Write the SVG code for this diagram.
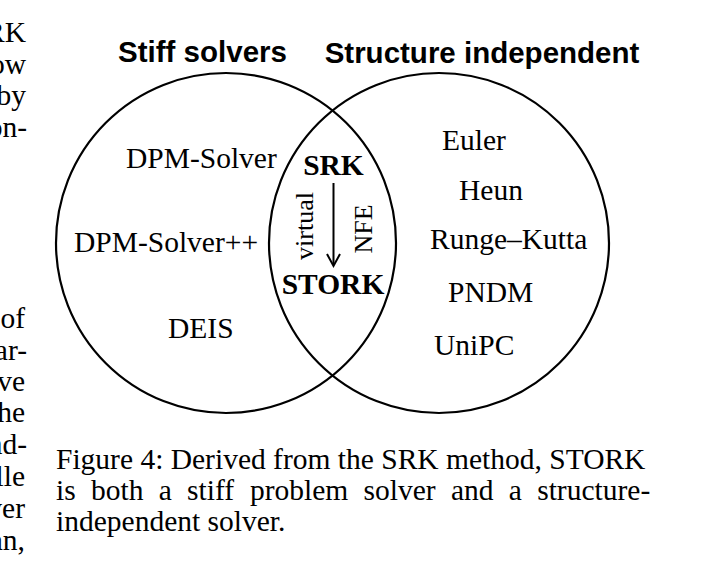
<svg xmlns="http://www.w3.org/2000/svg" width="708" height="571" viewBox="0 0 708 571">
<style>
.s{font-family:"Liberation Serif","Times New Roman",serif;font-size:29.5px;fill:#000}
.b{font-weight:bold}
.h{font-family:"Liberation Sans",Arial,sans-serif;font-size:29.5px;font-weight:bold;fill:#000}
.c{fill:none;stroke:#000;stroke-width:2.2}
.r{font-size:26px}
</style>
<rect width="708" height="571" fill="#fff"/>
<g id="margin-text" class="s">
<text x="26" y="42" text-anchor="end">RK</text>
<text x="26" y="74" text-anchor="end">ow</text>
<text x="26" y="105" text-anchor="end">by</text>
<text x="27" y="137" text-anchor="end">on-</text>
<text x="25" y="328" text-anchor="end">of</text>
<text x="27" y="360" text-anchor="end">ar-</text>
<text x="25" y="391" text-anchor="end">ve</text>
<text x="25" y="422" text-anchor="end">he</text>
<text x="27" y="454" text-anchor="end">nd-</text>
<text x="25" y="486" text-anchor="end">lle</text>
<text x="25" y="518" text-anchor="end">ver</text>
<text x="25" y="550" text-anchor="end">an,</text>
</g>
<g id="stiff-solvers">
<circle class="c" cx="226" cy="243" r="170"/>
<text class="h" x="202.5" y="62" text-anchor="middle">Stiff solvers</text>
<text class="s" x="126" y="168">DPM-Solver</text>
<text class="s" x="74" y="252">DPM-Solver++</text>
<text class="s" x="168" y="338">DEIS</text>
</g>
<g id="structure-independent">
<circle class="c" cx="439" cy="243" r="170"/>
<text class="h" x="482" y="63" text-anchor="middle">Structure independent</text>
<text class="s" x="442" y="150">Euler</text>
<text class="s" x="459" y="200">Heun</text>
<text class="s" x="430" y="249">Runge–Kutta</text>
<text class="s" x="448" y="302">PNDM</text>
<text class="s" x="434" y="355">UniPC</text>
</g>
<g id="srk"><text class="s b" x="333.5" y="175" text-anchor="middle">SRK</text></g>
<g id="stork"><text class="s b" x="333" y="294" text-anchor="middle">STORK</text></g>
<g id="connectors">
<line x1="333.5" y1="183" x2="333.5" y2="265" stroke="#000" stroke-width="2"/>
<polyline points="327,254 333.5,266 340,254" fill="none" stroke="#000" stroke-width="2"/>
<text class="s r" transform="translate(313,226) rotate(-90)" text-anchor="middle">virtual</text>
<text class="s r" transform="translate(372,229) rotate(-90)" text-anchor="middle">NFE</text>
</g>
<g id="caption" class="s">
<text x="56" y="469">Figure 4: Derived from the SRK method, STORK</text>
<text y="500"><tspan x="56">is</tspan><tspan x="91">both</tspan><tspan x="158.7">a</tspan><tspan x="187.1">stiff</tspan><tspan x="249.9">problem</tspan><tspan x="363.5">solver</tspan><tspan x="450.9">and</tspan><tspan x="508.8">a</tspan><tspan x="537.2">structure-</tspan></text>
<text x="56" y="531">independent solver.</text>
</g>
</svg>
